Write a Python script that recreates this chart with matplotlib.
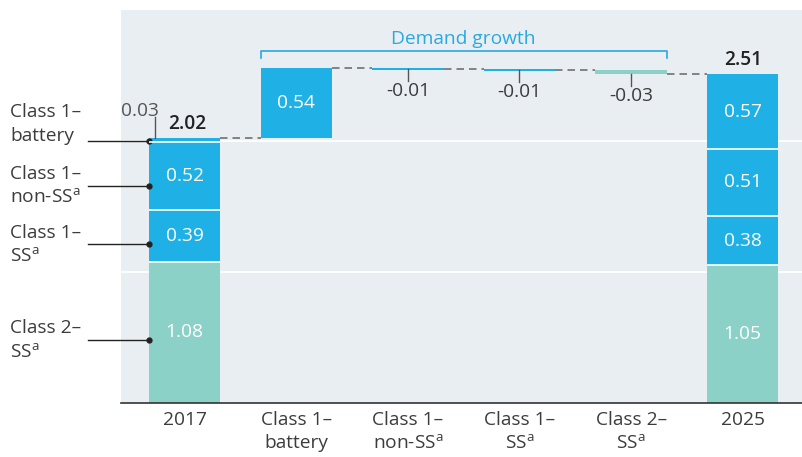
import numpy as np
import matplotlib
matplotlib.use('Agg')
import matplotlib.pyplot as plt

plt.rcParams['font.family'] = ['Open Sans', 'DejaVu Sans']
plt.rcParams['mathtext.fontset'] = 'custom'
plt.rcParams['mathtext.rm'] = 'Open Sans'
plt.rcParams['mathtext.it'] = 'Open Sans'

### Data
categories = ['2017', 'Class 1–\nbattery', 'Class 1–\nnon-SS$^{\\rm a}$',
              'Class 1–\nSS$^{\\rm a}$', 'Class 2–\nSS$^{\\rm a}$', '2025']
segment_names = ['Class 2–\nSS$^{\\rm a}$', 'Class 1–\nSS$^{\\rm a}$',
                 'Class 1–\nnon-SS$^{\\rm a}$', 'Class 1–\nbattery']
start_values = [1.08, 0.39, 0.52, 0.03]   # 2017, bottom to top
end_values = [1.05, 0.38, 0.51, 0.57]     # 2025, bottom to top
changes = [0.54, -0.01, -0.01, -0.03]
start_total = 2.02
end_total = 2.51

### Styles
blue = '#1fb1e6'
teal = '#8bd1c7'
bg = '#e9eef2'
txt = '#3c3c3c'
fs = 13.8
seg_colors = [teal, blue, blue, blue]
change_colors = [blue, blue, blue, teal]
width = 0.64

fig = plt.figure(figsize=(8.03, 4.57), dpi=100)
ax = fig.add_axes([121 / 803, 54 / 457, 682 / 803, 393 / 457])
ax.set_facecolor(bg)
ax.set_xlim(-0.57, 5.54)
ax.set_ylim(0, 3.0)

for y in (1, 2):
    ax.axhline(y, color='white', lw=1.2, zorder=1)

### Stacked end bars
def stacked(x, vals, labels_skip):
    bottom = 0
    for i, v in enumerate(vals):
        ax.bar(x, v, width, bottom=bottom, color=seg_colors[i], zorder=2)
        if i > 0:
            ax.hlines(bottom, x - width / 2, x + width / 2, color='white', lw=1.2, zorder=3)
        if i not in labels_skip:
            ax.text(x, bottom + v / 2, f'{v:.2f}', color='white', ha='center',
                    va='center', fontsize=fs, zorder=4)
        bottom += v

stacked(0, start_values, labels_skip=[3])
stacked(5, end_values, labels_skip=[])

### Waterfall steps
level = start_total
levels = [level]
for i, c in enumerate(changes):
    x = i + 1
    lo = min(level, level + c)
    h = abs(c)
    if c > 0:
        ax.bar(x, h, width, bottom=lo, color=change_colors[i], zorder=2)
        ax.text(x, lo + h / 2, f'{c:.2f}', color='white', ha='center',
                va='center', fontsize=fs, zorder=4)
    else:
        hh = max(h, 0.015)
        ax.bar(x, hh, width, bottom=level - hh, color=change_colors[i], zorder=2)
        ax.plot([x, x], [lo, lo - 0.09], color='#555555', lw=1, zorder=3)
        ax.text(x, lo - 0.1, f'{c:.2f}', color=txt, ha='center', va='top',
                fontsize=fs, zorder=4)
    level += c
    levels.append(level)

### Dashed connectors
for i, lv in enumerate(levels):
    ax.plot([i + width / 2, i + 1 - width / 2], [lv, lv], color='#707070',
            lw=1.2, ls=(0, (4.5, 3)), zorder=2)

### Totals
ax.text(0.02, start_total + 0.03, f'{start_total:.2f}', ha='center', va='bottom',
        fontsize=fs, fontweight='semibold', color='#222222')
ax.text(5, end_total + 0.03, f'{end_total:.2f}', ha='center', va='bottom',
        fontsize=fs, fontweight='semibold', color='#222222')

### 0.03 callout
ax.plot([-0.264, -0.264], [2.02, 2.18], color='#555555', lw=1, zorder=3)
ax.text(-0.40, 2.16, '0.03', ha='center', va='bottom', fontsize=fs, color='#555555')

### Demand growth bracket
bx0, bx1 = 1 - width / 2, 4 + width / 2
ax.plot([bx0, bx0, bx1, bx1], [2.634, 2.687, 2.687, 2.634], color='#2aa9e0',
        lw=1.2, clip_on=False)
ax.text(2.5, 2.71, 'Demand growth', ha='center', va='bottom', fontsize=fs,
        color='#2aa9e0')

### Left segment callouts
dot_y = [0.48, 1.21, 1.66, 2.0]
text_y = [0.48, 1.21, 1.66, 2.13]
for name, dy, ty in zip(segment_names, dot_y, text_y):
    ax.plot([-0.865, -width / 2], [dy, dy], color='#222222', lw=1, clip_on=False)
    ax.plot([-width / 2], [dy], 'o', color='#222222', ms=3.5, clip_on=False)
    ax.text(-1.565, ty, name, ha='left', va='center', fontsize=fs, color=txt,
            linespacing=1.4, clip_on=False)

### Axes styling
for s in ('left', 'right', 'top'):
    ax.spines[s].set_visible(False)
ax.spines['bottom'].set_color('#333333')
ax.spines['bottom'].set_linewidth(1.2)
ax.set_yticks([])
ax.set_xticks(np.arange(len(categories)))
ax.set_xticklabels(categories, fontsize=fs, color=txt, linespacing=1.35)
ax.tick_params(axis='x', length=0, pad=6)

fig.savefig('out.png', dpi=100, facecolor='white')
